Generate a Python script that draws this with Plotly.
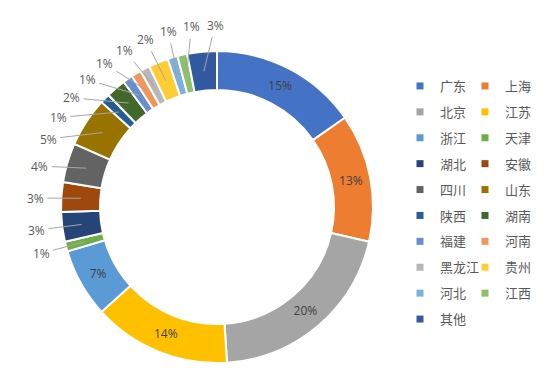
import math
import plotly.graph_objects as go

# ---------------- data ----------------
categories = ["广东", "上海", "北京", "江苏", "浙江", "天津", "湖北", "安徽", "四川", "山东",
              "陕西", "湖南", "福建", "河南", "黑龙江", "贵州", "河北", "江西", "其他"]
shares = [15, 13, 20, 14, 7, 1, 3, 3, 4, 5, 1, 2, 1, 1, 1, 2, 1, 1, 3]
colors = ["#4472C4", "#ED7D31", "#A5A5A5", "#FFC000", "#5B9BD5", "#70AD47", "#264478",
          "#9E480E", "#636363", "#997300", "#255E91", "#43682B", "#698ED0", "#F1975A",
          "#B7B7B7", "#FFCD33", "#7CAFDD", "#8CC168", "#335AA1"]

# ---------------- layout constants ----------------
W, H = 550, 374
CX, CY, R = 217, 207, 156
HOLE = 0.75
R_MID = R * (1 + HOLE) / 2
R_LABEL = 182
GAP_DEG = 7.5
INSIDE_MIN = 7  # slices at/above this share are labelled inside

total = sum(shares)
mids = []
cum = 0
for v in shares:
    mids.append((cum + v / 2) / total * 360)
    cum += v

inside = [v >= INSIDE_MIN for v in shares]


def spread_centered(angles, g):
    clusters = []
    for a in angles:
        clusters.append([1, a])
        while len(clusters) > 1:
            n1, s1 = clusters[-2]
            n2, s2 = clusters[-1]
            end1 = s1 / n1 + g * (n1 - 1)
            start2 = s2 / n2
            if start2 - end1 < g:
                clusters[-2] = [n1 + n2, s1 + s2 - g * n1 * n2]
                clusters.pop()
            else:
                break
    out = []
    for n, s in clusters:
        base = s / n
        out += [base + g * k for k in range(n)]
    return out


def spread_back(angles, g):
    out = list(angles)
    for k in range(len(out) - 2, -1, -1):
        out[k] = min(out[k], out[k + 1] - g)
    return out


out_idx = [i for i in range(len(shares)) if not inside[i]]
nat = [mids[i] for i in out_idx]
label_angles = [(a + b) / 2 for a, b in zip(spread_centered(nat, GAP_DEG), spread_back(nat, GAP_DEG))]

annotations = []
for i, la in zip(out_idx, label_angles):
    t = math.radians(mids[i])
    tl = math.radians(la)
    hx = CX + R_MID * math.sin(t)
    hy = CY - R_MID * math.cos(t)
    lx = CX + R_LABEL * math.sin(tl)
    ly = CY - R_LABEL * math.cos(tl)
    annotations.append(dict(
        x=hx / W, y=1 - hy / H, xref="paper", yref="paper",
        ax=lx - hx, ay=ly - hy, axref="pixel", ayref="pixel",
        text=f"{shares[i]}%", showarrow=True, arrowhead=0, arrowwidth=1,
        arrowcolor="#A6A6A6", standoff=0, startstandoff=2,
        font=dict(size=12, color="#595959", family="Open Sans, Noto Sans CJK SC"),
    ))

fig = go.Figure()
fig.add_trace(go.Pie(
    labels=categories, values=shares, sort=False, direction="clockwise", rotation=0,
    hole=HOLE,
    marker=dict(colors=colors, line=dict(color="white", width=2)),
    texttemplate="%{value}%",
    textposition=["inside" if f else "none" for f in inside],
    insidetextorientation="horizontal",
    insidetextfont=dict(size=12, color="#404040", family="Open Sans, Noto Sans CJK SC"),
    showlegend=False,
    domain=dict(x=[(CX - R) / W, (CX + R) / W], y=[1 - (CY + R) / H, 1 - (CY - R) / H]),
))

# legend entries (two columns, row-major order)
for i, (c, col) in enumerate(zip(categories, colors)):
    fig.add_trace(go.Scatter(
        x=[None], y=[None], mode="markers", name=c,
        marker=dict(symbol="square", size=7, color=col),
        legend="legend" if i % 2 == 0 else "legend2",
        legendgroup=c, showlegend=True, hoverinfo="skip",
    ))

legend_common = dict(
    orientation="v", yanchor="top", xanchor="left", y=1 - 71 / H,
    font=dict(size=13, color="#595959", family="Noto Sans CJK SC"),
    tracegroupgap=6, bgcolor="rgba(0,0,0,0)", itemwidth=30,
)

fig.update_layout(
    width=W, height=H,
    margin=dict(l=0, r=0, t=0, b=0),
    paper_bgcolor="white", plot_bgcolor="white",
    xaxis=dict(visible=False), yaxis=dict(visible=False),
    legend=dict(x=(426 - 26) / W, **legend_common),
    legend2=dict(x=(491 - 26) / W, **legend_common),
    annotations=annotations,
)

fig.write_html("out.html", config={"displayModeBar": False},
               post_script="document.body.style.margin='0';")
